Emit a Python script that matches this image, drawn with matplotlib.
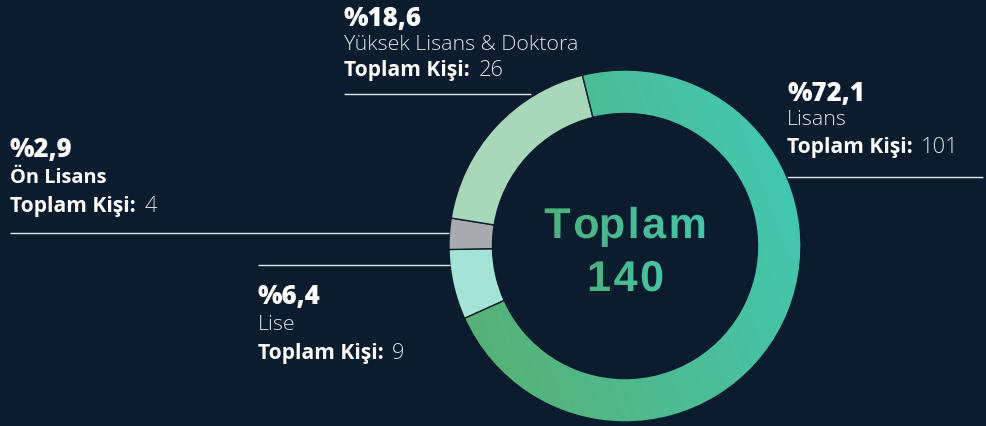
import numpy as np
import matplotlib
matplotlib.use('Agg')
import matplotlib.pyplot as plt
from matplotlib.colors import LinearSegmentedColormap
from matplotlib.patches import Wedge, PathPatch
from matplotlib.textpath import TextPath
from matplotlib.font_manager import FontProperties
from matplotlib.path import Path

# ---------------- data ----------------
categories = ['Lisans', 'Lise', 'Ön Lisans', 'Yüksek Lisans & Doktora']
counts = [101, 9, 4, 26]
percent_labels = ['%72,1', '%6,4', '%2,9', '%18,6']
total_label = ['Toplam', '140']
count_prefix = 'Toplam Kişi:'

# ---------------- style ----------------
BG = '#0b1c2e'
W, H = 986, 426
FONT = ['Open Sans', 'DejaVu Sans']
plt.rcParams['font.family'] = FONT

fig = plt.figure(figsize=(W / 100, H / 100), dpi=100, facecolor=BG)
ax = fig.add_axes([0, 0, 1, 1])
ax.set_facecolor(BG)

cx, cy = 625, H - 246
R, r_in = 176, 132.5
colors = ['#4fbc8f', '#a3e4d7', '#a9aaae', '#a8d8b9']
wedges, _ = ax.pie(counts, startangle=104, counterclock=False, radius=R,
                   center=(cx, cy), colors=colors,
                   wedgeprops=dict(width=R - r_in, edgecolor=BG, linewidth=1.0))


def gradient_fill(patch, x0, x1, y0, y1, c0, c1, angle_deg, z):
    cmap = LinearSegmentedColormap.from_list('g', [c0, c1])
    xs = np.linspace(x0, x1, 300)
    ys = np.linspace(y0, y1, 300)
    X, Y = np.meshgrid(xs, ys)
    a = np.deg2rad(angle_deg)
    mx, my = (x0 + x1) / 2, (y0 + y1) / 2
    half = max(x1 - x0, y1 - y0) / 2
    t = ((X - mx) * np.cos(a) + (Y - my) * np.sin(a)) / half
    im = ax.imshow((t + 1) / 2, extent=(x0, x1, y0, y1), origin='lower', cmap=cmap,
                   vmin=0, vmax=1, zorder=z, interpolation='bilinear')
    im.set_clip_path(patch)
    return im


# gradient on the main wedge
gradient_fill(wedges[0], cx - R, cx + R, cy - R, cy + R, '#57b176', '#43c7b0', 20,
              wedges[0].get_zorder() + 0.1)
w0 = wedges[0]
ax.add_patch(Wedge((cx, cy), R, w0.theta1, w0.theta2, width=R - r_in,
                   facecolor='none', edgecolor=BG, linewidth=1.0, zorder=5))

renderer = fig.canvas.get_renderer()


def text_w(s, **kw):
    tt = ax.text(0, 0, s, **kw)
    w = tt.get_window_extent(renderer).width
    tt.remove()
    return w


def fit_size(s, target, **kw):
    return 20 * target / text_w(s, fontsize=20, **kw)


# center text with letter spacing and a gradient fill
cfam = ['Liberation Sans', 'DejaVu Sans']
csize = 31
cprop = FontProperties(family=cfam, weight='bold', size=csize)


def spaced_gradient(s, xc, ybase, spacing):
    kw = dict(fontsize=csize, fontweight='bold', family=cfam)
    total_w = text_w(s, **kw) + spacing * (len(s) - 1)
    x0 = xc - total_w / 2
    paths = []
    for i, ch in enumerate(s):
        xi = x0 + (text_w(s[:i], **kw) if i else 0) + spacing * i
        paths.append(TextPath((xi, H - ybase), ch, size=csize * 100 / 72, prop=cprop))
    comp = Path.make_compound_path(*paths)
    pp = PathPatch(comp, facecolor='none', edgecolor='none', zorder=6)
    ax.add_patch(pp)
    ext = comp.get_extents()
    gradient_fill(pp, x0 - 2, x0 + total_w + 2, ext.y0 - 2, ext.y1 + 2,
                  '#4cb07c', '#46c6a9', 0, 7)


spaced_gradient(total_label[0], 625.5, 238, 2.6)
spaced_gradient(total_label[1], 625.5, 291, 2.6)

ax.set_xlim(0, W)
ax.set_ylim(0, H)
ax.set_aspect('auto')
ax.axis('off')

# font sizes fitted to the reference widths
pct_size = fit_size('%72,1', 77.6, fontweight='heavy')
cat_size = fit_size('Yüksek Lisans & Doktora', 234, fontweight=300)
pre_size = fit_size(count_prefix, 125, fontweight='bold')
num_size = fit_size('101', 37.5, fontweight=300)
catb_size = fit_size('Ön Lisans', 97, fontweight='bold')

blocks = {
    'Lisans': (787, (100.7, 125, 153.3), 177, (787, 983), False),
    'Lise': (258, (304.3, 330, 359.3), 265, (258, 450), False),
    'Ön Lisans': (10, (156.7, 183.3, 211.7), 233.3, (10, 449), True),
    'Yüksek Lisans & Doktora': (344, (26, 50, 76), 94, (344, 531), False),
}

LIGHT = '#dde2e7'
for cat, cnt, pl in zip(categories, counts, percent_labels):
    x, (b1, b2, b3), ly, (lx0, lx1), cat_bold = blocks[cat]
    ax.text(x, H - b1, pl, fontsize=pct_size, fontweight='heavy', color='white',
            ha='left', va='baseline')
    if cat_bold:
        ax.text(x, H - b2, cat, fontsize=catb_size, fontweight='bold',
                color='white', ha='left', va='baseline')
    else:
        ax.text(x, H - b2, cat, fontsize=cat_size, fontweight=300,
                color=LIGHT, ha='left', va='baseline')
    bkw = dict(fontsize=pre_size, fontweight='bold', color='white')
    ax.text(x, H - b3, count_prefix, ha='left', va='baseline', **bkw)
    wpre = text_w(count_prefix, **bkw)
    ax.text(x + wpre + 8.5, H - b3, str(cnt), fontsize=num_size, fontweight=300,
            color=LIGHT, ha='left', va='baseline')
    ax.plot([lx0, lx1], [H - ly, H - ly], color='#e6e9ec', lw=1.0,
            solid_capstyle='butt')

fig.savefig('out.png', dpi=100, facecolor=BG)
